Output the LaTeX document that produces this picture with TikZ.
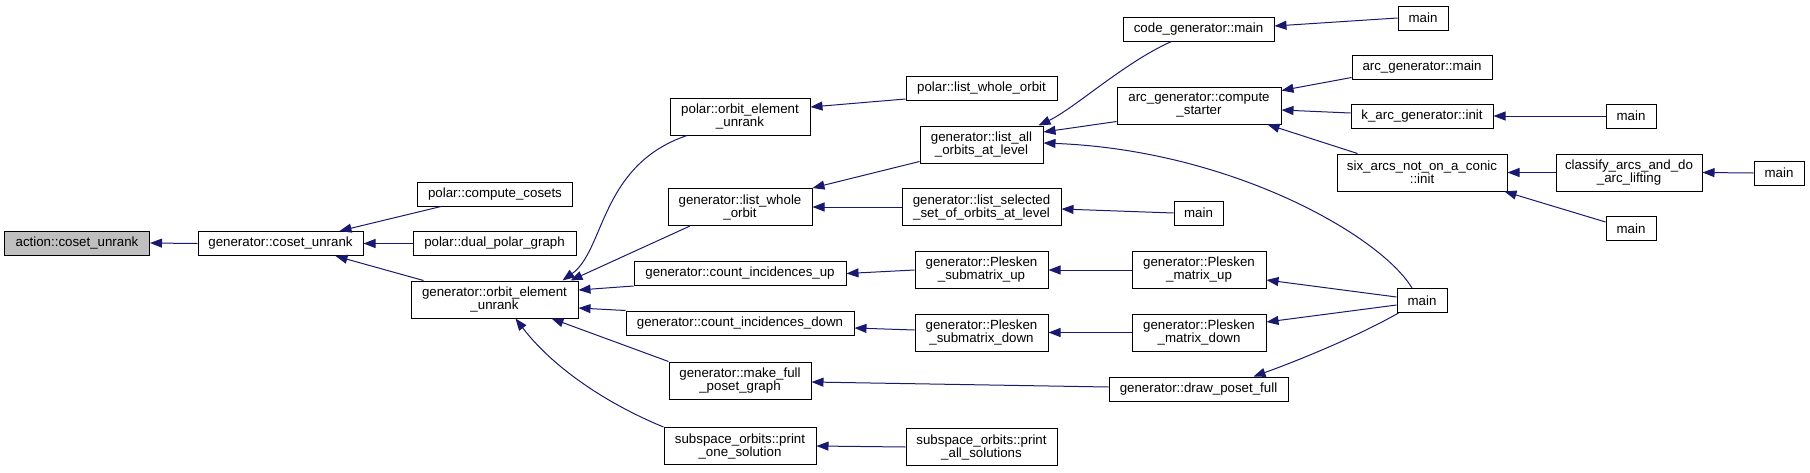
\documentclass[tikz,border=0pt]{standalone}
\usepackage{fontspec}
\setmainfont{Liberation Sans}
\usepackage{tikz}
\usetikzlibrary{arrows.meta, positioning}
\definecolor{callblue}{RGB}{25,25,112}
\tikzset{
	func/.style={
		draw=black,
		line width=1pt,
		fill=white,
		align=center,
		inner sep=0pt,
		minimum height=24pt,
		font=\fontsize{13.3}{13}\selectfont
	},
	func2/.style={
		func,
		minimum height=37pt
	},
	call/.style={
		-{Triangle[length=12pt, width=9pt]},
		draw=callblue,
		line width=1pt
	}
}

\begin{document}
\begin{tikzpicture}[x=1pt, y=-1pt]
		\useasboundingbox (0,0) rectangle (1810,472);
		
		% Colonne 1 et 2
		\node[func, fill=gray!50, minimum width=145pt] (ACT) at (77,243) {action::coset\_unrank};
		\node[func, minimum width=165pt] (GCU) at (280.5,243.5) {generator::coset\_unrank};
		
		% Colonne 3
		\node[func, minimum width=155pt] (PCC) at (495,194) {polar::compute\_cosets};
		\node[func, minimum width=163pt] (PDP) at (494.5,243.5) {polar::dual\_polar\_graph};
		\node[func2, minimum width=167pt] (GOE) at (494.5,299.5) {generator::orbit\_element\\\_unrank};
		
		% Colonne 4
		\node[func2, minimum width=140pt] (POE) at (740,116.5) {polar::orbit\_element\\\_unrank};
		\node[func2, minimum width=144pt] (GLW) at (740,207) {generator::list\_whole\\\_orbit};
		\node[func, minimum width=212pt] (CIU) at (740,273.5) {generator::count\_incidences\_up};
		\node[func, minimum width=228pt] (CID) at (740,323) {generator::count\_incidences\_down};
		\node[func2, minimum width=142pt] (MFP) at (740,380.5) {generator::make\_full\\\_poset\_graph};
		\node[func2, minimum width=152pt] (POS) at (740,446) {subspace\_orbits::print\\\_one\_solution};
		
		% Colonne 5
		\node[func, minimum width=151pt] (PLW) at (981.5,88.5) {polar::list\_whole\_orbit};
		\node[func2, minimum width=123pt] (GLA) at (981.5,144.5) {generator::list\_all\\\_orbits\_at\_level};
		\node[func2, minimum width=159pt] (GLS) at (981.5,207) {generator::list\_selected\\\_set\_of\_orbits\_at\_level};
		\node[func2, minimum width=133pt] (PSU) at (981.5,270) {generator::Plesken\\\_submatrix\_up};
		\node[func2, minimum width=133pt] (PSD) at (981.5,332.5) {generator::Plesken\\\_submatrix\_down};
		\node[func2, minimum width=151pt] (PAS) at (981.5,447) {subspace\_orbits::print\\\_all\_solutions};
		
		% Colonne 6
		\node[func, minimum width=151pt] (CGM) at (1198.5,29) {code\_generator::main};
		\node[func2, minimum width=164pt] (ACS) at (1199,105.5) {arc\_generator::compute\\\_starter};
		\node[func, minimum width=49pt] (M1) at (1198.5,213) {main};
		\node[func2, minimum width=134pt] (PMU) at (1199,270) {generator::Plesken\\\_matrix\_up};
		\node[func2, minimum width=134pt] (PMD) at (1199,332.5) {generator::Plesken\\\_matrix\_down};
		\node[func, minimum width=179pt] (DPF) at (1198.5,389) {generator::draw\_poset\_full};
		
		% Colonne 7
		\node[func, minimum width=50pt] (M2) at (1423,18) {main};
		\node[func, minimum width=140pt] (AGM) at (1422,67) {arc\_generator::main};
		\node[func, minimum width=142pt] (KAI) at (1422,116) {k\_arc\_generator::init};
		\node[func2, minimum width=170pt] (SAX) at (1422,172.5) {six\_arcs\_not\_on\_a\_conic\\::init};
		\node[func, minimum width=50pt] (M6) at (1422,300.5) {main};
		
		% Colonnes 8 et 9
		\node[func, minimum width=50pt] (M3) at (1631,116) {main};
		\node[func2, minimum width=146pt] (CLA) at (1629,172.5) {classify\_arcs\_and\_do\\\_arc\_lifting};
		\node[func, minimum width=50pt] (M4) at (1631,228.5) {main};
		\node[func, minimum width=50pt] (M5) at (1779,173) {main};
		
		%--- Appels (fleche vers la fonction appelee) ---
		\draw[call] (GCU.west) -- (ACT.east);
		\draw[call] ([xshift=-54pt]PCC.south) -- ([xshift=59pt]GCU.north);
		\draw[call] (PDP.west) -- (GCU.east);
		\draw[call] ([xshift=-71pt]GOE.north) -- ([xshift=55pt]GCU.south);
		
		\draw[call] ([xshift=-53pt]POE.south) .. controls (600,165) and (605,250) .. ([xshift=68pt]GOE.north);
		\draw[call] ([xshift=-50pt]GLW.south) -- ([xshift=-8pt]GOE.north east);
		\draw[call] (CIU.south west) -- ([yshift=9.5pt]GOE.east);
		\draw[call] (CID.north west) -- ([yshift=-8.5pt]GOE.east);
		\draw[call] (MFP.north west) -- ([xshift=57pt]GOE.south);
		\draw[call] (POS.north west) .. controls (610,405) and (555,370) .. ([xshift=21pt]GOE.south);
		
		\draw[call] ([yshift=2pt]PLW.south west) -- ([yshift=9.5pt]POE.east);
		\draw[call] ([yshift=2pt]GLA.south west) -- (GLW.north east);
		\draw[call] (GLS.west) -- (GLW.east);
		\draw[call] (PSU.west) -- (CIU.east);
		\draw[call] ([yshift=2.5pt]PSD.west) -- ([yshift=-5pt]CID.east);
		\draw[call] ([yshift=2pt]DPF.west) -- ([yshift=-1.5pt]MFP.east);
		\draw[call] (PAS.west) -- (POS.east);
		
		\draw[call] ([xshift=-27pt]CGM.south) .. controls (1125,62) and (1075,108) .. ([xshift=-5pt]GLA.north east);
		\draw[call] ([yshift=3pt]ACS.south west) -- ([yshift=12.5pt]GLA.east);
		\draw[call] ([xshift=-10pt]M6.north) .. controls (1380,235) and (1230,150) .. ([yshift=1.5pt]GLA.east);
		\draw[call] (M1.west) -- ([yshift=-2pt]GLS.east);
		\draw[call] (PMU.west) -- (PSU.east);
		\draw[call] (PMD.west) -- (PSD.east);
		
		\draw[call] (M2.west) -- ([yshift=3pt]CGM.east);
		\draw[call] ([yshift=2pt]AGM.south west) -- ([yshift=-4pt]ACS.north east);
		\draw[call] ([yshift=3pt]KAI.west) -- ([yshift=-4.5pt]ACS.east);
		\draw[call] ([xshift=21pt]SAX.north west) -- ([xshift=-14pt]ACS.south east);
		\draw[call] ([yshift=3.5pt]M6.west) -- ([yshift=-10pt]PMU.east);
		\draw[call] ([yshift=-4.5pt]M6.west) -- ([yshift=10.5pt]PMD.east);
		\draw[call] ([xshift=2pt]M6.south west) .. controls (1360,335) and (1300,360) .. ([xshift=55pt]DPF.north);
		
		\draw[call] (M3.west) -- (KAI.east);
		\draw[call] (CLA.west) -- (SAX.east);
		\draw[call] ([yshift=6.5pt]M4.west) -- ([xshift=-3pt]SAX.south east);
		\draw[call] (M5.west) -- (CLA.east);
	\end{tikzpicture}
\end{document}
